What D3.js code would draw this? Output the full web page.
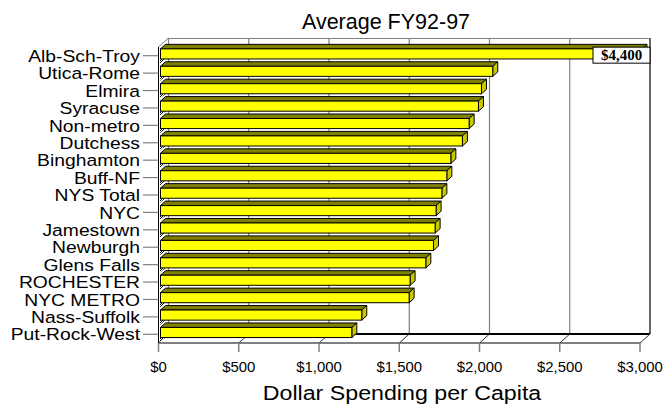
<!DOCTYPE html>
<html>
<head>
<meta charset="utf-8">
<script src="https://cdn.jsdelivr.net/npm/d3@7"></script>
<style>
  html, body { margin: 0; padding: 0; background: #fff; }
  svg { display: block; font-family: Arial, "Liberation Sans", sans-serif; }
</style>
</head>
<body>
<svg id="chart" width="670" height="408"></svg>
<script>
// Regions, top to bottom
const categories = [
  "Alb-Sch-Troy", "Utica-Rome", "Elmira", "Syracuse", "Non-metro", "Dutchess",
  "Binghamton", "Buff-NF", "NYS Total", "NYC", "Jamestown", "Newburgh",
  "Glens Falls", "ROCHESTER", "NYC METRO", "Nass-Suffolk", "Put-Rock-West"
];
// Average dollar spending per capita, FY92-97
const spending = [
  4400, 2070, 2000, 1981, 1923, 1881,
  1809, 1784, 1753, 1717, 1711, 1701,
  1653, 1555, 1549, 1254, 1192
];
// Value axis ticks
const tickValues = [0, 500, 1000, 1500, 2000, 2500, 3000];
const tickLabels = ["$0", "$500", "$1,000", "$1,500", "$2,000", "$2,500", "$3,000"];
// Bars running past the axis carry their value in a box
const axisMax = 3000;

const svg = d3.select("#chart");

// Front plane scales; depth is a shear toward upper right
const x = d3.scaleLinear().domain([0, axisMax]).range([158.5, 640]).clamp(true);
const y = d3.scaleBand().domain(categories).range([47, 343])
  .paddingInner(0.42).paddingOuter(0.21);
const DX = 10, DY = 9;                 // full depth of the plot box
const zFront = 0.2, zBack = 0.7;       // bar depth slot
const P = (v, yy, z) => [x(v) + z * DX, yy - z * DY];
const yTop = 47, yBot = 343;

const line = (a, b, stroke, w = 1) => svg.append("line")
  .attr("x1", a[0]).attr("y1", a[1]).attr("x2", b[0]).attr("y2", b[1])
  .attr("stroke", stroke).attr("stroke-width", w).attr("shape-rendering", "crispEdges");

// Text with a slight horizontal stretch (wide screen rendering of Arial)
const wideText = (parent, tx, ty, str, size, anchor, sx) => parent.append("text")
  .attr("transform", `translate(${tx},${ty}) scale(${sx},1)`)
  .attr("text-anchor", anchor).attr("font-size", size).attr("fill", "#000").text(str);

// Back wall: gridlines and frame
const gBack = svg.append("g");
tickValues.forEach(t => {
  const a = P(t, yTop, 1), b = P(t, yBot, 1);
  gBack.append("line").attr("x1", a[0]).attr("y1", a[1]).attr("x2", b[0]).attr("y2", b[1])
    .attr("stroke", t === axisMax ? "#000" : "#808080").attr("stroke-width", 1.2);
});
line(P(0, yTop, 1), P(axisMax, yTop, 1), "#808080");
// top-left wall edge
svg.append("line").attr("x1", x(0)).attr("y1", yTop)
  .attr("x2", P(0, yTop, 1)[0]).attr("y2", P(0, yTop, 1)[1]).attr("stroke", "#808080");

// Floor
line(P(0, yBot, 1), P(axisMax, yBot, 1), "#000", 1.2);
line(P(0, yBot, 0), P(axisMax, yBot, 0), "#808080", 1.5);
tickValues.forEach(t => {
  const a = P(t, yBot, 0), b = P(t, yBot, 1);
  svg.append("line").attr("x1", a[0]).attr("y1", a[1]).attr("x2", b[0]).attr("y2", b[1])
    .attr("stroke", "#333").attr("stroke-width", 1);
  // tick marks below the front edge
  svg.append("line").attr("x1", a[0]).attr("y1", yBot).attr("x2", a[0]).attr("y2", yBot + 9)
    .attr("stroke", "#808080").attr("stroke-width", 1.5);
});

// Category axis line
line([x(0), yTop], [x(0), yBot], "#000", 1.2);

// Checker pattern for the shaded wall gaps at the bar roots
const defs = svg.append("defs");
const pat = defs.append("pattern").attr("id", "dots").attr("width", 2).attr("height", 2)
  .attr("patternUnits", "userSpaceOnUse");
pat.append("rect").attr("width", 2).attr("height", 2).attr("fill", "#fff");
pat.append("rect").attr("width", 1).attr("height", 1).attr("fill", "#000");
pat.append("rect").attr("x", 1).attr("y", 1).attr("width", 1).attr("height", 1).attr("fill", "#000");

// Bars
const gBars = svg.append("g");
const pts = a => a.map(p => p.join(",")).join(" ");
categories.forEach((c, i) => {
  const v = spending[i];
  const y0 = y(c), y1 = y(c) + y.bandwidth();
  const g = gBars.append("g");
  // wall shading at root
  const r0 = P(0, y1, zFront);
  g.append("polygon")
    .attr("points", pts([[r0[0] - 0.5, r0[1]], [r0[0] + 5, r0[1]], [r0[0] - 0.5, r0[1] + 4.5]]))
    .attr("fill", "url(#dots)");
  // top face
  g.append("polygon")
    .attr("points", pts([P(0, y0, zFront), P(v, y0, zFront), P(v, y0, zBack), P(0, y0, zBack)]))
    .attr("fill", "#808000").attr("stroke", "#000").attr("stroke-width", 1).attr("stroke-linejoin", "round");
  // end face
  g.append("polygon")
    .attr("points", pts([P(v, y0, zFront), P(v, y1, zFront), P(v, y1, zBack), P(v, y0, zBack)]))
    .attr("fill", "#c8c800").attr("stroke", "#000").attr("stroke-width", 1).attr("stroke-linejoin", "round");
  // front face
  const f0 = P(0, y0, zFront), f1 = P(v, y1, zFront);
  g.append("rect")
    .attr("x", f0[0]).attr("y", f0[1]).attr("width", f1[0] - f0[0]).attr("height", f1[1] - f0[1])
    .attr("fill", "#ffff00").attr("stroke", "#000").attr("stroke-width", 1);
});

// Category labels and ticks
const gCat = svg.append("g");
categories.forEach(c => {
  const cy = y(c) + y.bandwidth() / 2;
  gCat.append("line").attr("x1", 143).attr("x2", x(0)).attr("y1", cy).attr("y2", cy)
    .attr("stroke", "#808080").attr("stroke-width", 1.2);
  wideText(gCat, 140, cy + 6.2, c, 16.5, "end", 1.17);
});

// Value tick labels
tickValues.forEach((t, i) => {
  wideText(svg, x(t), 372, tickLabels[i], 14.5, "middle", 1.03);
});

// Value box for bars beyond the axis
categories.forEach((c, i) => {
  if (spending[i] <= axisMax) return;
  const right = P(axisMax, 0, 1)[0];
  const bx = right - 57, by = y(c) - 3.5;
  svg.append("rect").attr("x", bx).attr("y", by).attr("width", 57).attr("height", 16)
    .attr("fill", "#fff").attr("stroke", "#000").attr("stroke-width", 1);
  svg.append("text").attr("x", bx + 28.5).attr("y", by + 13)
    .attr("text-anchor", "middle").attr("font-family", "'Liberation Serif', 'Times New Roman', serif")
    .attr("font-weight", "bold").attr("font-size", 15).text(d3.format("$,")(spending[i]));
});

// Titles
wideText(svg, 386, 29, "Average FY92-97", 21.5, "middle", 1.0);
wideText(svg, 402, 400, "Dollar Spending per Capita", 19.5, "middle", 1.19);
</script>
</body>
</html>
